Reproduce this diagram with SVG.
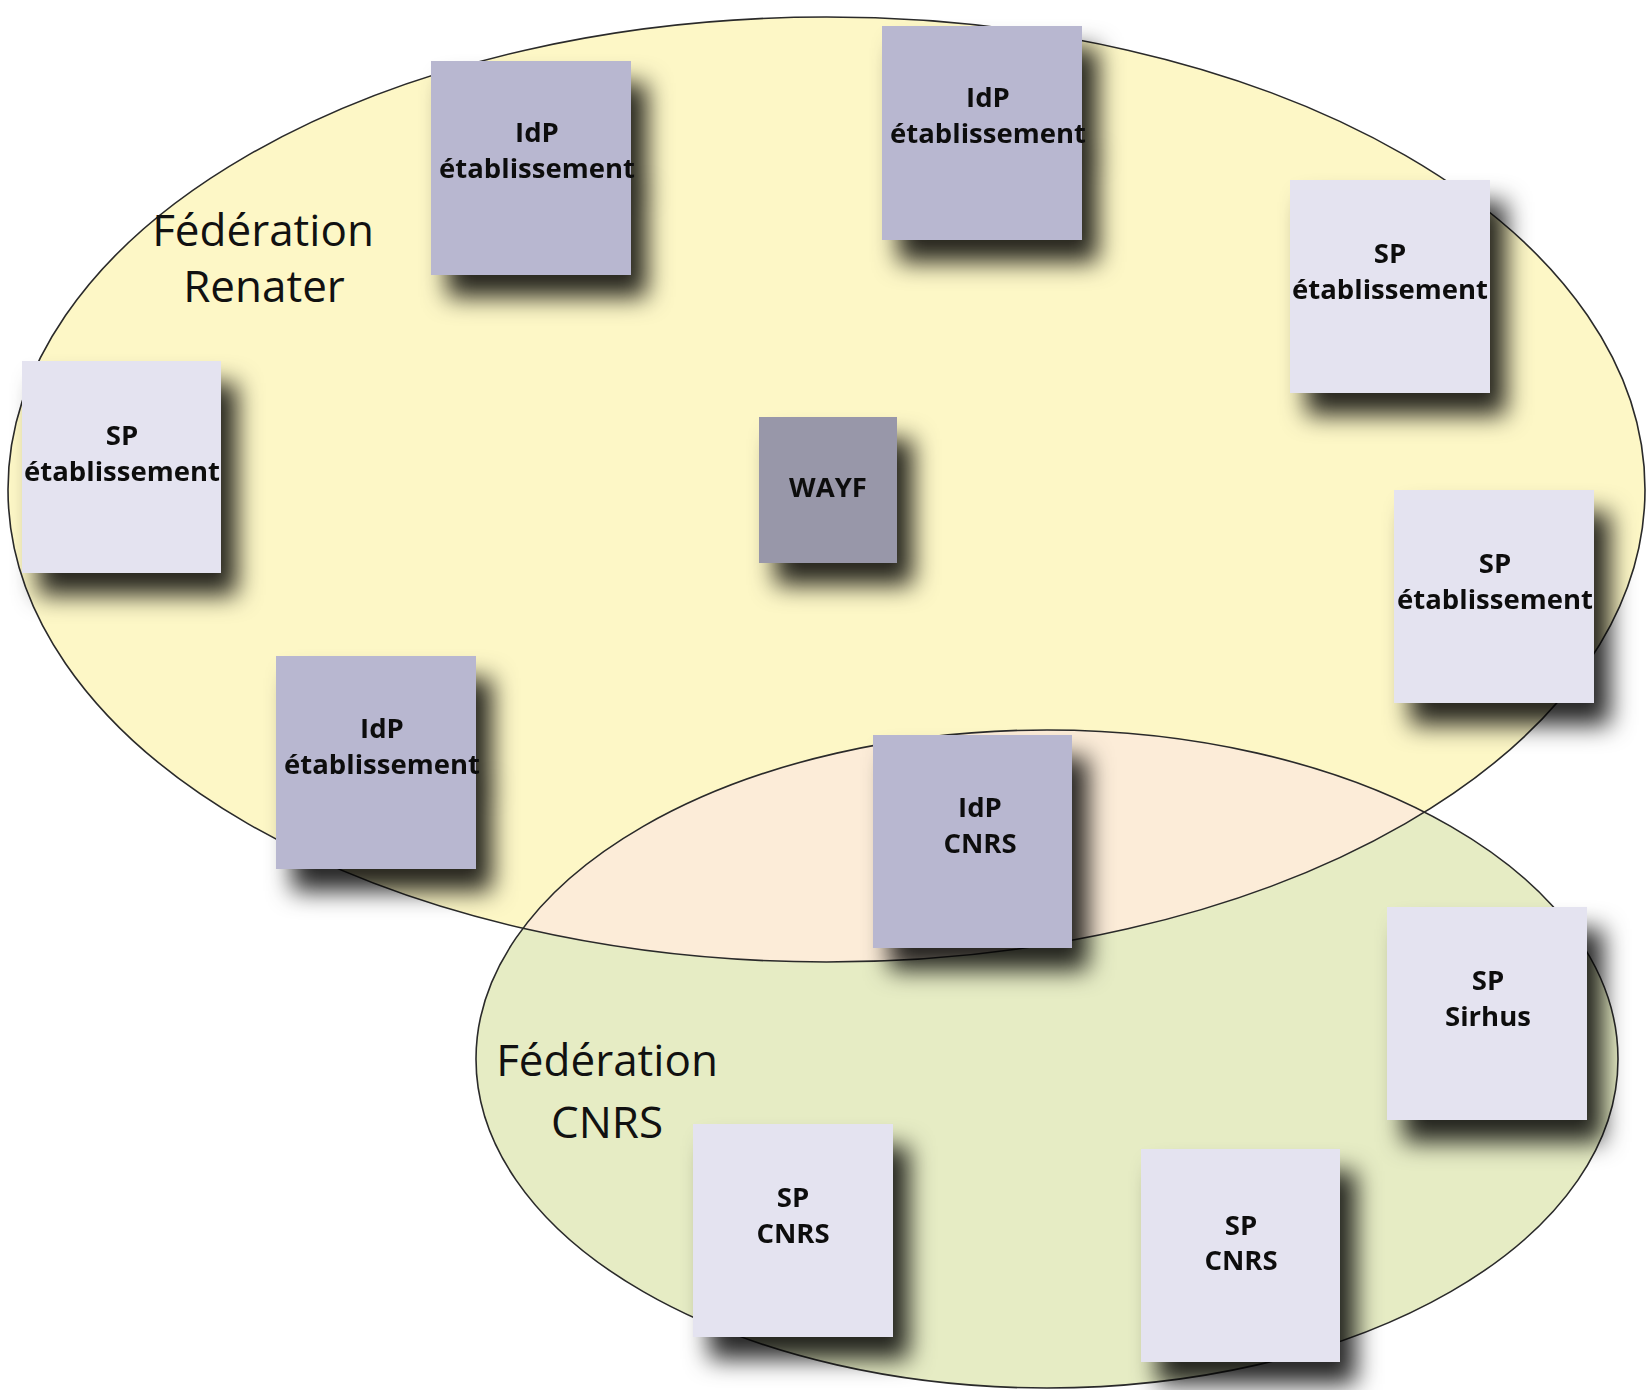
<svg xmlns="http://www.w3.org/2000/svg" width="1651" height="1390" viewBox="0 0 1651 1390">
<style>
.lbl{font-family:"Open Sans","Liberation Sans",sans-serif;font-weight:bold;font-size:27.5px;fill:#111;text-anchor:middle}
.fed{font-family:"Open Sans","Liberation Sans",sans-serif;font-size:44px;fill:#111;text-anchor:middle}
.idp{fill:#b8b7d0}
.sp{fill:#e4e3f0}
.wayf{fill:#9897a9}
.edge{fill:none;stroke:#2a2a2a;stroke-width:1.6}
</style>
<defs>
<filter id="sh" x="-30%" y="-30%" width="170%" height="170%">
<feDropShadow dx="16" dy="22" stdDeviation="12" flood-color="#000" flood-opacity="0.85"/>
</filter>
<clipPath id="cnrsClip"><ellipse cx="1047" cy="1059" rx="571" ry="329"/></clipPath>
</defs>
<rect width="1651" height="1390" fill="#fff"/>
<g id="federations">
<ellipse cx="826.5" cy="489.5" rx="818.5" ry="472.5" fill="#fdf7c6"/>
<ellipse cx="1047" cy="1059" rx="571" ry="329" fill="#e6ecc4"/>
<ellipse cx="826.5" cy="489.5" rx="818.5" ry="472.5" fill="#fcecd8" clip-path="url(#cnrsClip)"/>
<ellipse class="edge" cx="826.5" cy="489.5" rx="818.5" ry="472.5"/>
<ellipse class="edge" cx="1047" cy="1059" rx="571" ry="329"/>
<text class="fed" x="263" y="246">Fédération</text>
<text class="fed" x="264" y="302">Renater</text>
<text class="fed" x="607" y="1076">Fédération</text>
<text class="fed" x="607" y="1138">CNRS</text>
</g>
<g id="connectors"></g>
<g id="idp1" filter="url(#sh)"><rect class="idp" x="431" y="61" width="200" height="214"/><text class="lbl" x="537" y="142">IdP</text><text class="lbl" x="537" y="178">établissement</text></g>
<g id="idp2" filter="url(#sh)"><rect class="idp" x="882" y="26" width="200" height="214"/><text class="lbl" x="988" y="107">IdP</text><text class="lbl" x="988" y="143">établissement</text></g>
<g id="sp1" filter="url(#sh)"><rect class="sp" x="1290" y="180" width="200" height="213"/><text class="lbl" x="1390" y="263">SP</text><text class="lbl" x="1390" y="299">établissement</text></g>
<g id="sp2" filter="url(#sh)"><rect class="sp" x="22" y="361" width="199" height="212"/><text class="lbl" x="122" y="445">SP</text><text class="lbl" x="122" y="481">établissement</text></g>
<g id="wayf" filter="url(#sh)"><rect class="wayf" x="759" y="417" width="138" height="146"/><text class="lbl" x="828" y="497">WAYF</text></g>
<g id="sp3" filter="url(#sh)"><rect class="sp" x="1394" y="490" width="200" height="213"/><text class="lbl" x="1495" y="573">SP</text><text class="lbl" x="1495" y="609">établissement</text></g>
<g id="idp3" filter="url(#sh)"><rect class="idp" x="276" y="656" width="200" height="213"/><text class="lbl" x="382" y="738">IdP</text><text class="lbl" x="382" y="774">établissement</text></g>
<g id="idpcnrs" filter="url(#sh)"><rect class="idp" x="873" y="735" width="199" height="213"/><text class="lbl" x="980" y="817">IdP</text><text class="lbl" x="980" y="853">CNRS</text></g>
<g id="spsirhus" filter="url(#sh)"><rect class="sp" x="1387" y="907" width="200" height="213"/><text class="lbl" x="1488" y="990">SP</text><text class="lbl" x="1488" y="1026">Sirhus</text></g>
<g id="spcnrs1" filter="url(#sh)"><rect class="sp" x="693" y="1124" width="200" height="213"/><text class="lbl" x="793" y="1207">SP</text><text class="lbl" x="793" y="1243">CNRS</text></g>
<g id="spcnrs2" filter="url(#sh)"><rect class="sp" x="1141" y="1149" width="199" height="213"/><text class="lbl" x="1241" y="1235">SP</text><text class="lbl" x="1241" y="1270">CNRS</text></g>
</svg>
